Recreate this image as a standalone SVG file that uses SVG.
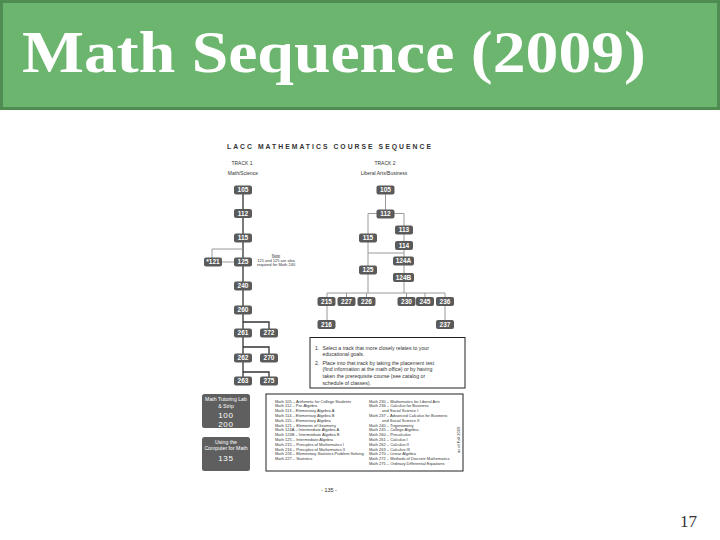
<svg xmlns="http://www.w3.org/2000/svg" width="720" height="540" viewBox="0 0 720 540">
<style>
.title{font-family:"Liberation Serif",serif;font-weight:bold;font-size:59px;fill:#ffffff}
.node rect{fill:#5a5a5a}
.node text{font-family:"Liberation Sans",Arial,sans-serif;font-weight:bold;font-size:6.5px;fill:#ffffff;text-anchor:middle}
.c1{stroke:#333333;stroke-width:1.3;fill:none}
.c2{stroke:#9a9a9a;stroke-width:1;fill:none}
.lbl{font-family:"Liberation Sans",Arial,sans-serif;fill:#333333;text-anchor:middle}
.small{font-family:"Liberation Sans",Arial,sans-serif;fill:#333333}
.box{fill:#ffffff;stroke:#222222;stroke-width:1}
.gbox rect{fill:#5f5f5f}
.gbox text{font-family:"Liberation Sans",Arial,sans-serif;fill:#ffffff;text-anchor:middle}
</style>
<rect x="0" y="0" width="720" height="540" fill="#ffffff"/>
<g id="titlebar">
<rect x="1.5" y="1.5" width="717" height="107" fill="#6bb56e" stroke="#4f8c52" stroke-width="3"/>
<text class="title" x="22" y="72" textLength="624" lengthAdjust="spacingAndGlyphs">Math Sequence (2009)</text>
</g>
<text x="697" y="527" font-family="Liberation Serif,serif" font-size="17" fill="#333333" text-anchor="end">17</text>

<g id="header">
<text x="329" y="148.5" font-family="Liberation Sans,Arial,sans-serif" font-weight="bold" font-size="6.8" fill="#333333" text-anchor="middle" textLength="204" lengthAdjust="spacing">LACC MATHEMATICS COURSE SEQUENCE</text>
<text class="lbl" x="242" y="165" font-size="5">TRACK 1</text>
<text class="lbl" x="243" y="174.5" font-size="5">Math/Science</text>
<text class="lbl" x="385" y="165" font-size="5">TRACK 2</text>
<text class="lbl" x="384" y="174.5" font-size="5">Liberal Arts/Business</text>
</g>

<g id="connectors">
<path class="c1" d="M243 194 V377"/>
<path class="c2" d="M243 249 H212 V258"/>
<path class="c2" d="M222 262 H234"/>
<path class="c1" d="M243 322 H269 V329"/>
<path class="c1" d="M243 347 H269 V354"/>
<path class="c1" d="M243 372 H269 V377"/>
<path class="c2" d="M385.5 194 V210"/>
<path class="c2" d="M368 213.5 H404"/>
<path class="c2" d="M368 213.5 V293"/>
<path class="c2" d="M404 213.5 V293"/>
<path class="c2" d="M368 253 H404"/>
<path class="c2" d="M327 293 H445"/>
<path class="c2" d="M327 293 V298 M346.5 293 V298 M366.5 293 V298 M406.5 293 V298 M425 293 V298 M445 293 V298"/>
<path class="c2" d="M327 305 V320 M445 305 V320"/>
</g>

<g id="n105a" class="node"><rect x="234" y="185.5" width="18" height="9" rx="2"/><text x="243" y="192.4">105</text></g>
<g id="n112a" class="node"><rect x="234" y="209" width="18" height="9" rx="2"/><text x="243" y="215.9">112</text></g>
<g id="n115a" class="node"><rect x="234" y="233.5" width="18" height="9" rx="2"/><text x="243" y="240.4">115</text></g>
<g id="n121" class="node"><rect x="204" y="257.5" width="18" height="9" rx="2"/><text x="213" y="264.4">*121</text></g>
<g id="n125a" class="node"><rect x="234" y="257.5" width="18" height="9" rx="2"/><text x="243" y="264.4">125</text></g>
<g id="n240" class="node"><rect x="234" y="281.5" width="18" height="9" rx="2"/><text x="243" y="288.4">240</text></g>
<g id="n260" class="node"><rect x="234" y="305.5" width="18" height="9" rx="2"/><text x="243" y="312.4">260</text></g>
<g id="n261" class="node"><rect x="234" y="328.5" width="18" height="9" rx="2"/><text x="243" y="335.4">261</text></g>
<g id="n272" class="node"><rect x="260" y="328.5" width="18" height="9" rx="2"/><text x="269" y="335.4">272</text></g>
<g id="n262" class="node"><rect x="234" y="353.5" width="18" height="9" rx="2"/><text x="243" y="360.4">262</text></g>
<g id="n270" class="node"><rect x="260" y="353.5" width="18" height="9" rx="2"/><text x="269" y="360.4">270</text></g>
<g id="n263" class="node"><rect x="234" y="376.5" width="18" height="9" rx="2"/><text x="243" y="383.4">263</text></g>
<g id="n275" class="node"><rect x="260" y="376.5" width="18" height="9" rx="2"/><text x="269" y="383.4">275</text></g>

<g id="note">
<text class="lbl" x="276" y="256.5" font-size="4" text-decoration="underline">Note</text>
<text class="lbl" x="276" y="261.5" font-size="4">121 and 125 are also</text>
<text class="lbl" x="276" y="266" font-size="4">required for Math 240</text>
</g>

<g id="n105b" class="node"><rect x="376.5" y="185.5" width="18" height="9" rx="2"/><text x="385.5" y="192.4">105</text></g>
<g id="n112b" class="node"><rect x="376.5" y="209.5" width="18" height="9" rx="2"/><text x="385.5" y="216.4">112</text></g>
<g id="n113" class="node"><rect x="395" y="225.5" width="18" height="9" rx="2"/><text x="404" y="232.4">113</text></g>
<g id="n115b" class="node"><rect x="359" y="233.5" width="18" height="9" rx="2"/><text x="368" y="240.4">115</text></g>
<g id="n114" class="node"><rect x="395" y="241" width="18" height="9" rx="2"/><text x="404" y="247.9">114</text></g>
<g id="n124a" class="node"><rect x="393" y="256.5" width="21" height="9" rx="2"/><text x="403.5" y="263.4">124A</text></g>
<g id="n125b" class="node"><rect x="359" y="265.5" width="18" height="9" rx="2"/><text x="368" y="272.4">125</text></g>
<g id="n124b" class="node"><rect x="393" y="273" width="21" height="9" rx="2"/><text x="403.5" y="279.9">124B</text></g>
<g id="n215" class="node"><rect x="317.5" y="297" width="18" height="9" rx="2"/><text x="326.5" y="303.9">215</text></g>
<g id="n227" class="node"><rect x="337.5" y="297" width="18" height="9" rx="2"/><text x="346.5" y="303.9">227</text></g>
<g id="n226" class="node"><rect x="357.5" y="297" width="18" height="9" rx="2"/><text x="366.5" y="303.9">226</text></g>
<g id="n230" class="node"><rect x="397.5" y="297" width="18" height="9" rx="2"/><text x="406.5" y="303.9">230</text></g>
<g id="n245" class="node"><rect x="416" y="297" width="18" height="9" rx="2"/><text x="425" y="303.9">245</text></g>
<g id="n236" class="node"><rect x="436" y="297" width="18" height="9" rx="2"/><text x="445" y="303.9">236</text></g>
<g id="n216" class="node"><rect x="317.5" y="320" width="18" height="9" rx="2"/><text x="326.5" y="326.9">216</text></g>
<g id="n237" class="node"><rect x="436" y="320" width="18" height="9" rx="2"/><text x="445" y="326.9">237</text></g>

<g id="instructions">
<rect class="box" x="310" y="337.5" width="155" height="50.5"/>
<g class="small" font-size="5.2">
<text x="315" y="349.5">1.</text><text x="322.5" y="349.5">Select a track that more closely relates to your</text>
<text x="322.5" y="356">educational goals.</text>
<text x="315" y="364.5">2.</text><text x="322.5" y="364.5">Place into that track by taking the placement test</text>
<text x="322.5" y="371">(find information at the math office) or by having</text>
<text x="322.5" y="377.5">taken the prerequisite course (see catalog or</text>
<text x="322.5" y="384.5">schedule of classes).</text>
</g>
</g>

<g id="tutoring" class="gbox">
<rect x="202" y="394" width="48" height="34" rx="2.5"/>
<text x="226" y="400.5" font-size="5.2">Math Tutoring Lab</text>
<text x="226" y="408" font-size="5.2">&amp; Strip</text>
<text x="226" y="417.5" font-size="8" letter-spacing="0.8">100</text>
<text x="226" y="426.5" font-size="8" letter-spacing="0.8">200</text>
</g>
<g id="computer" class="gbox">
<rect x="202" y="437" width="48" height="34" rx="2.5"/>
<text x="226" y="444" font-size="5.2">Using the</text>
<text x="226" y="449.5" font-size="5.2">Computer for Math</text>
<text x="226" y="460.5" font-size="8" letter-spacing="0.8">135</text>
</g>

<g id="legend">
<rect class="box" x="266" y="394" width="197" height="77"/>
<g class="small" font-size="4">
<text x="275" y="402.5">Math 105 – Arithmetic for College Students</text>
<text x="275" y="407.3">Math 112 – Pre-Algebra</text>
<text x="275" y="412.1">Math 113 – Elementary Algebra A</text>
<text x="275" y="416.9">Math 114 – Elementary Algebra B</text>
<text x="275" y="421.7">Math 115 – Elementary Algebra</text>
<text x="275" y="426.5">Math 121 – Elements of Geometry</text>
<text x="275" y="431.3">Math 124A – Intermediate Algebra A</text>
<text x="275" y="436.1">Math 124B – Intermediate Algebra B</text>
<text x="275" y="440.9">Math 125 – Intermediate Algebra</text>
<text x="275" y="445.7">Math 215 – Principles of Mathematics I</text>
<text x="275" y="450.5">Math 216 – Principles of Mathematics II</text>
<text x="275" y="455.3">Math 226 – Elementary Statistics Problem Solving</text>
<text x="275" y="460.1">Math 227 – Statistics</text>
<text x="369" y="402.5">Math 230 – Mathematics for Liberal Arts</text>
<text x="369" y="407.3">Math 236 – Calculus for Business</text>
<text x="382" y="412.1">and Social Science I</text>
<text x="369" y="416.9">Math 237 – Advanced Calculus for Business</text>
<text x="382" y="421.7">and Social Science II</text>
<text x="369" y="426.5">Math 240 – Trigonometry</text>
<text x="369" y="431.3">Math 245 – College Algebra</text>
<text x="369" y="436.1">Math 260 – Precalculus</text>
<text x="369" y="440.9">Math 261 – Calculus I</text>
<text x="369" y="445.7">Math 262 – Calculus II</text>
<text x="369" y="450.5">Math 263 – Calculus III</text>
<text x="369" y="455.3">Math 270 – Linear Algebra</text>
<text x="369" y="460.1">Math 272 – Methods of Discrete Mathematics</text>
<text x="369" y="464.9">Math 275 – Ordinary Differential Equations</text>
<text transform="translate(459.5 453) rotate(-90)">as of Fall 2009</text>
</g>
</g>
<text class="lbl" x="329" y="492" font-size="5.5">- 135 -</text>
</svg>
